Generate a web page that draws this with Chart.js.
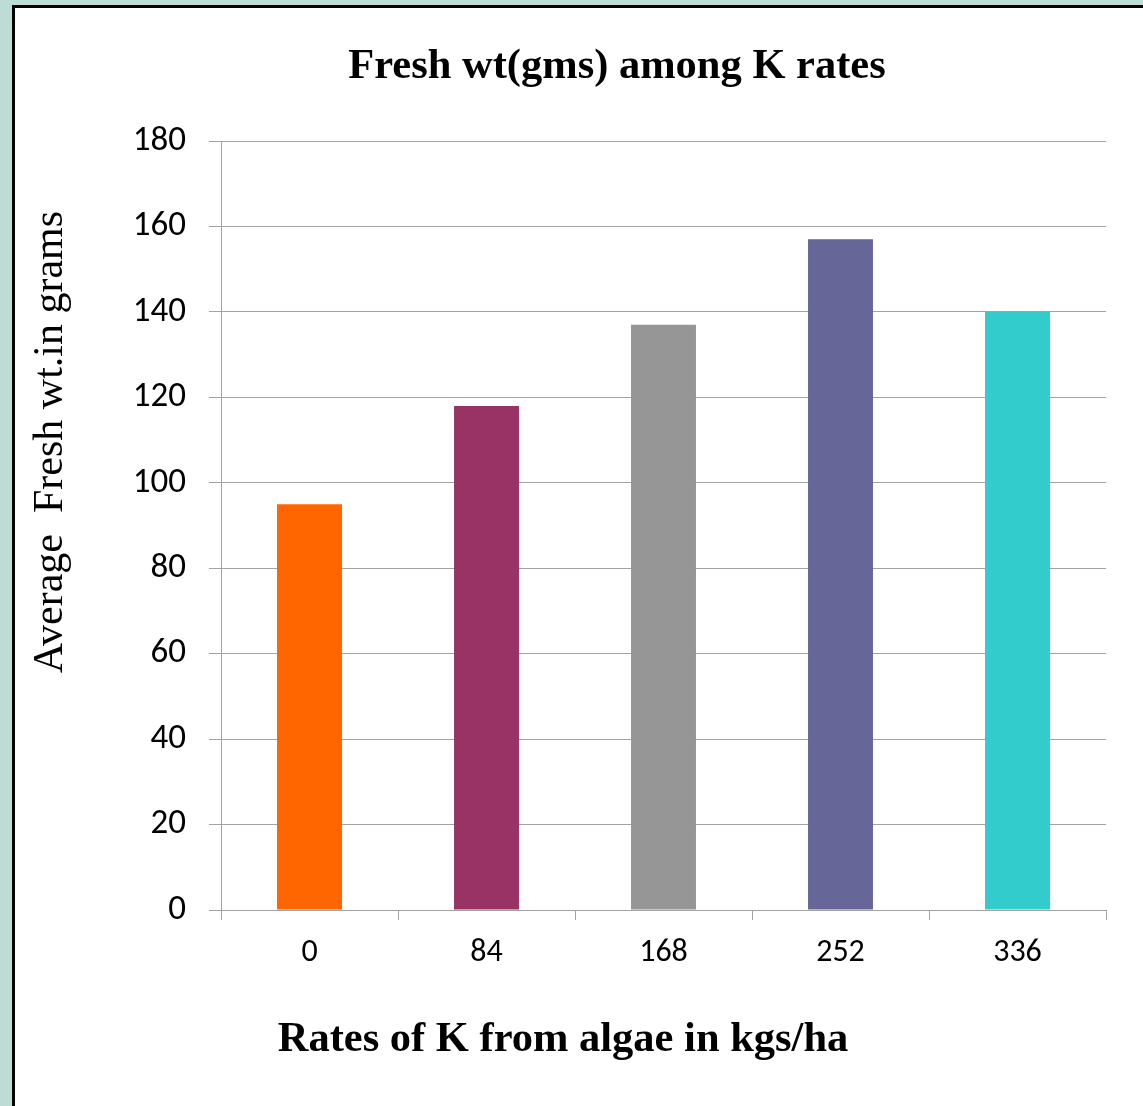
<!DOCTYPE html>
<html><head><meta charset="utf-8">
<script src="https://cdn.jsdelivr.net/npm/chart.js@4/dist/chart.umd.min.js"></script>
<style>
html,body{margin:0;padding:0;width:1143px;height:1106px;overflow:hidden;background:#bddcd6;}
#frame{position:absolute;left:12px;top:5px;right:0;bottom:0;background:#fff;border-left:3px solid #000;border-top:3px solid #000;}
#c{position:absolute;left:0;top:0;}
</style></head><body>
<div id="frame"></div>
<canvas id="c" width="1143" height="1106"></canvas>
<script>
const categories = ['0', '84', '168', '252', '336'];
const freshWeight = [95, 118, 137, 157, 140];
const barColors = ['#FF6600', '#993366', '#969696', '#666699', '#33CCCC'];
const yMin = 0, yMax = 180, yStep = 20;
const chartTitle = 'Fresh wt(gms) among K rates';
const xTitle = 'Rates of K from algae in kgs/ha';
const yTitle = 'Average  Fresh wt.in grams';

const serif = '"Liberation Serif", "Times New Roman", serif';
const sans = 'Carlito, Calibri, "Liberation Sans", Arial, sans-serif';
const gridColor = '#a3a3a3';

const axisTitles = {
  id: 'axisTitles',
  afterDraw(chart) {
    const ctx = chart.ctx;
    ctx.save();
    ctx.fillStyle = '#000';
    ctx.textAlign = 'center';
    ctx.textBaseline = 'alphabetic';
    ctx.font = 'bold 42.5px ' + serif;
    ctx.fillText(xTitle, 563, 1051);
    ctx.font = '42px ' + serif;
    ctx.translate(62, 442);
    ctx.rotate(-Math.PI / 2);
    ctx.fillText(yTitle, 0, 0);
    ctx.restore();
  }
};

new Chart(document.getElementById('c'), {
  type: 'bar',
  data: {
    labels: categories,
    datasets: [{
      data: freshWeight,
      backgroundColor: barColors,
      borderWidth: 0,
      barPercentage: 0.367,
      categoryPercentage: 1
    }]
  },
  options: {
    responsive: false,
    animation: false,
    devicePixelRatio: 1,
    layout: { padding: { left: 128, right: 37, top: 0, bottom: 0 } },
    plugins: {
      legend: { display: false },
      tooltip: { enabled: false },
      title: {
        display: true,
        text: chartTitle,
        color: '#000',
        font: { family: serif, size: 42.5, weight: 'bold', lineHeight: 1.2 },
        padding: { top: 42, bottom: 48 }
      }
    },
    scales: {
      x: {
        offset: true,
        afterFit(scale) { scale.height = 196; },
        grid: { display: true, drawOnChartArea: false, drawTicks: true, tickLength: 10, color: gridColor, offset: true },
        border: { display: true, color: gridColor, width: 1 },
        ticks: { color: '#000', font: { family: sans, size: 32, lineHeight: 1.2 }, padding: 14, maxRotation: 0 }
      },
      y: {
        min: yMin,
        max: yMax,
        afterFit(scale) { scale.width = 93; },
        grid: { color: gridColor, lineWidth: 1, drawTicks: true, tickLength: 12 },
        border: { display: true, color: gridColor, width: 1 },
        ticks: { stepSize: yStep, color: '#000', font: { family: sans, size: 35, lineHeight: 1.2 }, padding: 23 }
      }
    }
  },
  plugins: [axisTitles]
});
</script>
</body></html>
